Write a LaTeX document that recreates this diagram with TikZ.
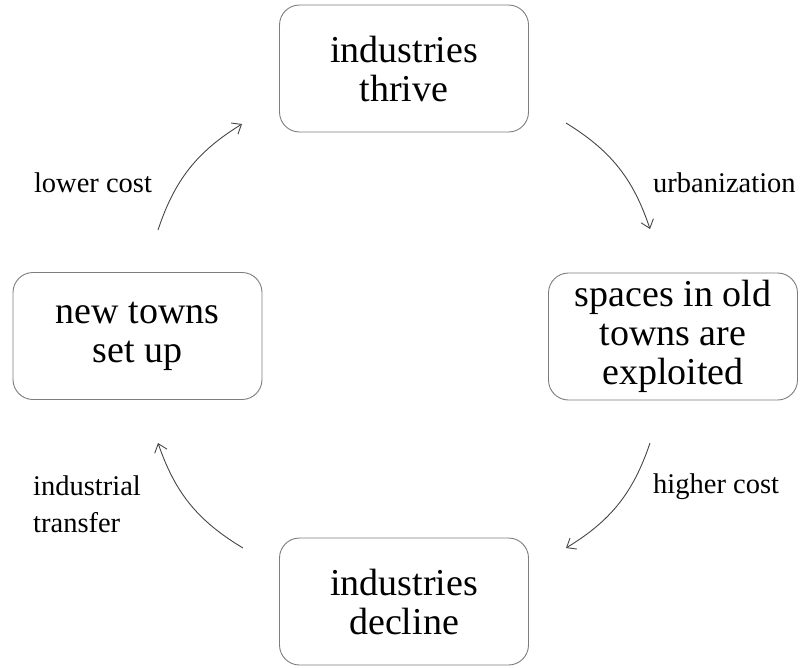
\documentclass[tikz,border=0pt]{standalone}
\usepackage{fontspec}
\setmainfont{Liberation Serif}
\usetikzlibrary{arrows.meta}
\definecolor{boxline}{RGB}{125,125,125}
\definecolor{arrline}{RGB}{70,70,70}
\begin{document}
\begin{tikzpicture}[x=1pt,y=-1pt,
  stagebox/.style={draw=boxline,line width=0.9pt,rounded corners=20pt,
    minimum width=249pt,minimum height=127pt,align=center,inner sep=0pt,
    font=\fontsize{38}{39}\selectfont},
  lbl/.style={inner sep=0pt,font=\fontsize{28.5}{37}\selectfont},
  flow/.style={draw=arrline,line width=0.9pt,bend left=20,
    -{Straight Barb[length=8pt,width=13pt,line width=0.9pt]}}]
\useasboundingbox (0,0) rectangle (800,667);
\node[stagebox] (top) at (404,68.5) {industries\\thrive};
\node[stagebox] (right) at (673,336.5) {spaces in old\\towns are\\exploited};
\node[stagebox] (bottom) at (404,601.5) {industries\\decline};
\node[stagebox] (left) at (137.5,336) {new towns\\set up};
\coordinate (trs) at (566,123);
\coordinate (tre) at (650,229);
\coordinate (brs) at (650,443);
\coordinate (bre) at (566,548);
\coordinate (bls) at (243,548);
\coordinate (ble) at (158,443);
\coordinate (tls) at (158,230);
\coordinate (tle) at (242,124);
\draw[flow] (trs) to (tre);
\draw[flow] (brs) to (bre);
\draw[flow] (bls) to (ble);
\draw[flow] (tls) to (tle);
\node[lbl,anchor=base] (lc) at (93,192) {lower cost};
\node[lbl,anchor=base west] (ub) at (653,192) {urbanization};
\node[lbl,anchor=base west] (hc) at (653,493) {higher cost};
\node[lbl,anchor=west,align=left] (it) at (33,504) {industrial\\transfer};
\end{tikzpicture}
\end{document}
